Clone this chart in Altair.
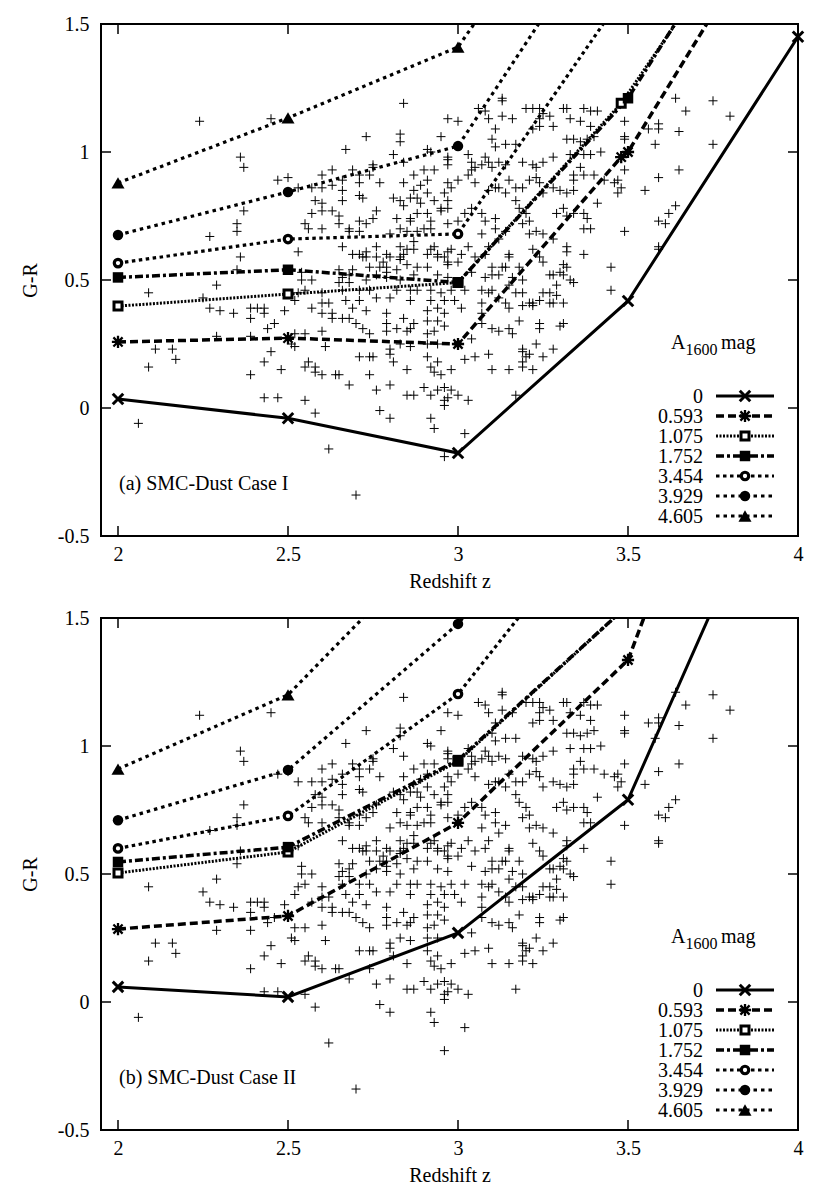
import altair as alt
import pandas as pd

# ---------------- data ----------------
scatter_points = [
 (2.24,1.12),(2.45,1.13),(2.84,1.19),(2.97,1.13),(3.00,1.12),(2.73,1.06),(2.83,1.07),(2.83,1.04),(2.95,1.06),(2.67,1.01),
 (2.81,0.99),(2.36,0.98),(2.37,0.94),(2.91,1.01),(2.92,1.00),(2.84,0.96),(2.97,0.98),(2.97,0.97),(2.47,0.89),(2.50,0.90),
 (2.60,0.91),(2.63,0.93),(2.69,0.93),(2.71,0.91),(2.75,0.95),(2.75,0.94),(2.74,0.91),(2.66,0.89),(2.63,0.87),(2.71,0.88),
 (2.77,0.88),(2.84,0.88),(2.87,0.91),(2.90,0.93),(2.93,0.93),(2.97,0.95),(2.53,0.86),(2.57,0.86),(2.60,0.86),(2.66,0.85),
 (2.58,0.81),(2.60,0.80),(2.66,0.81),(2.71,0.83),(2.72,0.82),(2.81,0.82),(2.84,0.79),(2.87,0.85),(2.88,0.82),(2.91,0.84),
 (2.93,0.81),(2.95,0.78),(2.97,0.81),(2.97,0.88),(2.37,0.77),(2.57,0.76),(2.60,0.77),(2.63,0.77),(2.65,0.75),(2.76,0.77),
 (2.75,0.74),(2.82,0.74),(2.86,0.73),(2.88,0.76),(2.91,0.76),(2.35,0.72),(2.35,0.69),(2.27,0.67),(2.55,0.72),(2.56,0.70),
 (2.60,0.70),(2.65,0.72),(2.68,0.70),(2.68,0.69),(2.71,0.73),(2.73,0.72),(2.71,0.69),(2.80,0.68),(2.83,0.70),(2.85,0.69),
 (2.88,0.69),(2.90,0.70),(2.92,0.70),(2.97,0.72),(2.53,0.61),(2.36,0.59),(2.66,0.63),(2.71,0.60),(2.72,0.59),(2.73,0.61),
 (2.76,0.63),(2.79,0.60),(2.83,0.63),(2.84,0.60),(2.87,0.62),(2.92,0.62),(2.98,0.62),(2.78,0.57),(2.80,0.59),(2.96,0.59),
 (2.97,0.57),(2.35,0.54),(2.54,0.53),(2.68,0.52),
 (3.06,1.17),(3.08,1.16),(3.13,1.21),(3.13,1.20),(3.20,1.17),(3.22,1.17),(3.24,1.17),(3.25,1.15),(3.27,1.14),(3.31,1.17),
 (3.32,1.17),(3.37,1.17),(3.39,1.16),(3.41,1.16),(3.09,1.13),(3.11,1.09),(3.13,1.14),(3.16,1.13),(3.22,1.09),(3.24,1.10),
 (3.28,1.10),(3.24,1.13),(3.33,1.13),(3.36,1.12),(3.39,1.10),(3.49,1.12),(3.49,1.06),(3.49,1.05),(3.56,1.09),(3.59,1.11),
 (3.59,1.09),(3.64,1.21),(3.67,1.16),(3.65,1.08),(3.75,1.20),(3.80,1.14),(3.58,1.03),(3.75,1.03),(3.03,0.99),(3.04,0.96),
 (3.08,0.98),(3.10,1.05),(3.11,1.02),(3.14,1.03),(3.17,1.03),(3.07,0.95),(3.09,0.96),(3.10,0.94),(3.12,0.96),(3.14,0.95),
 (3.19,0.96),(3.22,0.95),(3.23,0.94),(3.25,0.96),(3.28,0.98),(3.32,1.05),(3.34,1.05),(3.36,1.04),(3.38,1.05),(3.40,1.06),
 (3.33,0.99),(3.37,0.99),(3.39,0.99),(3.42,1.00),(3.36,0.94),(3.34,0.91),(3.37,0.91),(3.40,0.91),(3.43,0.89),(3.46,0.88),
 (3.47,0.84),(3.55,0.85),(3.49,0.93),(3.59,0.90),(3.65,0.93),(3.64,0.79),(3.62,0.76),(3.59,0.73),(3.61,0.72),(3.49,0.69),
 (3.59,0.63),(3.45,0.55),(3.37,0.60),(3.32,0.63),(3.31,0.56),(3.28,0.66),(3.25,0.68),(3.23,0.69),(3.21,0.68),(3.37,0.70),
 (3.39,0.70),(3.38,0.74),(3.41,0.80),(3.37,0.76),(3.34,0.76),(3.32,0.75),(3.29,0.76),(3.31,0.78),(3.34,0.89),(3.25,0.84),
 (3.28,0.86),(3.30,0.85),(3.32,0.84),(3.34,0.85),(3.19,0.86),(3.21,0.89),(3.23,0.90),(3.24,0.88),(3.15,0.89),(3.17,0.86),
 (3.17,0.81),(3.18,0.78),(3.20,0.76),(3.21,0.73),(3.19,0.72),(3.11,0.74),(3.11,0.70),(3.14,0.69),(3.09,0.85),(3.11,0.86),
 (3.12,0.86),(3.14,0.84),(3.05,0.88),(3.03,0.91),(3.04,0.93),(3.05,0.94),(3.00,0.89),(2.98,0.86),(2.96,0.84),(2.91,0.89),
 (2.89,0.87),(2.83,0.81),(2.86,0.82),(2.89,0.80),(2.86,0.74),(2.92,0.73),(2.95,0.77),(2.97,0.78),(3.00,0.73),(3.02,0.76),
 (3.04,0.78),(3.07,0.76),(3.08,0.73),(3.07,0.68),(3.09,0.63),(3.12,0.66),(3.01,0.60),(3.03,0.63),(3.05,0.59),(2.94,0.60),
 (2.97,0.61),(2.93,0.63),(2.87,0.65),(2.85,0.62),(2.83,0.59),(2.79,0.53),(3.24,0.59),(3.22,0.62),(3.15,0.59),(3.13,0.55),
 (3.18,0.55),(3.27,0.52),(3.30,0.53),(3.31,0.52),
 (2.69,0.60),(2.73,0.59),(2.76,0.59),(2.83,0.58),(2.91,0.60),(2.94,0.59),(3.08,0.60),(3.15,0.60),(3.32,0.61),(2.85,0.56),
 (2.88,0.55),(2.91,0.55),(2.97,0.56),(3.00,0.57),(3.10,0.55),(3.14,0.55),(3.25,0.57),(3.32,0.55),(2.65,0.54),(2.69,0.54),
 (2.74,0.55),(2.77,0.55),(2.79,0.55),(2.82,0.54),(2.54,0.50),(2.57,0.50),(2.66,0.51),(2.65,0.49),(2.68,0.49),(2.73,0.50),
 (2.76,0.52),(2.79,0.51),(2.83,0.50),(2.87,0.52),(2.94,0.52),(2.97,0.51),(3.04,0.53),(3.08,0.51),(3.10,0.52),(3.12,0.52),
 (3.16,0.51),(3.19,0.50),(3.28,0.52),(3.34,0.49),(3.29,0.48),
 (2.53,0.45),(2.55,0.46),(2.52,0.42),(2.60,0.45),(2.60,0.41),(2.62,0.41),(2.66,0.46),(2.71,0.46),(2.74,0.46),(2.67,0.42),
 (2.71,0.42),(2.76,0.43),(2.80,0.43),(2.82,0.46),(2.86,0.46),(2.88,0.46),(2.86,0.42),(2.92,0.46),(2.95,0.45),(2.98,0.46),
 (2.92,0.42),(2.96,0.42),(2.99,0.42),(3.02,0.46),(3.07,0.46),(3.09,0.45),(3.10,0.46),(3.07,0.41),(3.12,0.43),(3.15,0.48),
 (3.19,0.45),(3.22,0.41),(3.24,0.42),(3.27,0.45),(3.28,0.41),(3.29,0.44),(3.31,0.41),(3.45,0.46),
 (2.57,0.39),(2.60,0.37),(2.63,0.37),(2.63,0.35),(2.66,0.35),(2.69,0.39),(2.73,0.38),(2.68,0.35),(2.70,0.33),(2.72,0.31),
 (2.74,0.29),(2.79,0.37),(2.79,0.33),(2.79,0.30),(2.82,0.31),(2.84,0.35),(2.85,0.30),(2.87,0.33),(2.86,0.31),(2.91,0.38),
 (2.94,0.39),(2.96,0.37),(2.91,0.34),(2.94,0.34),(2.96,0.32),(2.91,0.29),(2.93,0.30),(3.01,0.39),(3.07,0.37),(3.07,0.33),
 (3.10,0.31),(3.12,0.30),(3.15,0.39),(3.19,0.40),(3.18,0.34),(3.15,0.31),(3.16,0.29),(3.24,0.33),(3.31,0.33),
 (2.55,0.29),(2.60,0.30),(2.52,0.24),(2.61,0.24),(2.83,0.25),(2.86,0.24),(2.80,0.23),(2.91,0.25),(2.94,0.25),(3.04,0.27),
 (3.19,0.22),(3.21,0.21),(3.23,0.25),(3.28,0.23),
 (2.56,0.18),(2.55,0.16),(2.58,0.16),(2.58,0.14),(2.60,0.13),(2.64,0.13),(2.65,0.13),(2.71,0.20),(2.74,0.20),(2.75,0.20),
 (2.74,0.13),(2.80,0.21),(2.81,0.18),(2.85,0.15),(2.91,0.20),(2.92,0.16),(2.94,0.18),(2.93,0.14),(2.95,0.13),(2.98,0.15),
 (3.02,0.19),(3.05,0.20),(3.09,0.21),(3.10,0.15),(3.15,0.15),(3.20,0.20),(3.19,0.18),(3.22,0.15),(3.25,0.20),
 (2.68,0.09),(2.80,0.09),(2.76,0.07),(2.90,0.08),(2.94,0.07),(2.96,0.08),(2.98,0.07),(2.85,0.05),(2.87,0.05),(2.92,0.05),
 (2.97,0.04),(3.00,0.05),(3.03,0.03),(2.96,0.01),(2.96,0.03),(2.55,0.03),(2.58,-0.02),(2.77,-0.01),(2.80,-0.04),(2.92,-0.04),
 (2.93,-0.08),(3.17,0.05),
 (2.09,0.45),(2.29,0.48),(2.25,0.43),(2.27,0.39),(2.30,0.38),(2.34,0.37),(2.39,0.39),(2.41,0.39),(2.43,0.39),(2.39,0.35),
 (2.46,0.33),(2.44,0.31),(2.43,0.37),(2.49,0.38),(2.29,0.28),(2.39,0.28),(2.11,0.23),(2.16,0.23),(2.17,0.19),(2.09,0.16),
 (2.52,0.29),(2.51,0.25),(2.43,0.18),(2.45,0.22),(2.39,0.13),(2.48,0.15),(2.43,0.04),(2.47,0.04),(2.06,-0.06),(2.70,-0.34),
 (2.62,-0.16),(2.96,-0.19),(3.02,-0.10),(3.24,0.31),(3.30,0.32),(3.19,0.23),(3.19,0.16),(3.22,0.40),(3.27,0.41),(3.33,0.50),
 (3.25,0.45),(3.21,0.41),(3.17,0.45),(3.14,0.41),(3.48,0.86),(3.47,0.89),(3.59,0.62),
]
scatter_z = [p[0] for p in scatter_points]
scatter_gr = [p[1] for p in scatter_points]

series_names = ["0", "0.593", "1.075", "1.752", "3.454", "3.929", "4.605"]

# (a) SMC-Dust Case I
case1_z = {
    "0":     [2, 2.5, 3, 3.5, 4],
    "0.593": [2, 2.5, 3, 3.48, 3.5, 4],
    "1.075": [2, 2.5, 3, 3.48, 4],
    "1.752": [2, 2.5, 3, 3.5, 4],
    "3.454": [2, 2.5, 3, 3.5],
    "3.929": [2, 2.5, 3, 3.5],
    "4.605": [2, 2.5, 3, 3.5],
}
case1_gr = {
    "0":     [0.035, -0.04, -0.176, 0.418, 1.45],
    "0.593": [0.258, 0.273, 0.25, 0.98, 1.0, 2.08],
    "1.075": [0.398, 0.445, 0.49, 1.19, 2.2],
    "1.752": [0.51, 0.54, 0.49, 1.21, 2.26],
    "3.454": [0.566, 0.66, 0.68, 1.64],
    "3.929": [0.676, 0.844, 1.023, 2.03],
    "4.605": [0.879, 1.133, 1.41, 2.36],
}
# (b) SMC-Dust Case II
case2_z = {
    "0":     [2, 2.5, 3, 3.5, 4],
    "0.593": [2, 2.5, 3, 3.5, 4],
    "1.075": [2, 2.5, 3, 3.5],
    "1.752": [2, 2.5, 3, 3.5],
    "3.454": [2, 2.5, 3, 3.5],
    "3.929": [2, 2.5, 3, 3.5],
    "4.605": [2, 2.5, 3],
}
case2_gr = {
    "0":     [0.059, 0.02, 0.27, 0.79, 2.29],
    "0.593": [0.285, 0.336, 0.70, 1.336, 3.1],
    "1.075": [0.504, 0.586, 0.94, 1.55],
    "1.752": [0.547, 0.605, 0.945, 1.55],
    "3.454": [0.60, 0.727, 1.203, 2.04],
    "3.929": [0.71, 0.906, 1.477, 2.3],
    "4.605": [0.91, 1.2, 1.88],
}
x_ticks = [2, 2.5, 3, 3.5, 4]
y_ticks = [-0.5, 0, 0.5, 1, 1.5]

# ---------------- styles ----------------
FONT = "Liberation Serif"
W, H = 697, 512
TL = 10  # inward tick length

PLUS = "M-1,0L1,0M0,-1L0,1"
XPATH = "M-1,-1L1,1M-1,1L1,-1"
STAR = "M-1,0L1,0M0,-1L0,1M-0.75,-0.75L0.75,0.75M-0.75,0.75L0.75,-0.75"

LINE_STYLE = {
    "0":     dict(strokeWidth=3),
    "0.593": dict(strokeWidth=3.5, strokeDash=[8, 4]),
    "1.075": dict(strokeWidth=3, strokeDash=[2, 1.5]),
    "1.752": dict(strokeWidth=3.5, strokeDash=[8, 3, 3, 3]),
    "3.454": dict(strokeWidth=3.2, strokeDash=[3.5, 3.5]),
    "3.929": dict(strokeWidth=3.2, strokeDash=[3.5, 4]),
    "4.605": dict(strokeWidth=3.2, strokeDash=[3.5, 4]),
}
MARKER = {
    "0":     dict(shape=XPATH, filled=False, stroke="black", strokeWidth=3, size=110),
    "0.593": dict(shape=STAR, filled=False, stroke="black", strokeWidth=2.3, size=150),
    "1.075": dict(shape="square", filled=True, fill="white", stroke="black", strokeWidth=3, size=64),
    "1.752": dict(shape="square", filled=True, fill="black", size=110),
    "3.454": dict(shape="circle", filled=True, fill="white", stroke="black", strokeWidth=3.2, size=56),
    "3.929": dict(shape="circle", filled=True, fill="black", size=110),
    "4.605": dict(shape="triangle-up", filled=True, fill="black", size=170),
}

xscale = alt.Scale(domain=[1.95, 4], nice=False, zero=False)
yscale = alt.Scale(domain=[-0.5, 1.5], nice=False, zero=False)

common_axis = dict(domain=False, ticks=False, grid=False, labelFont=FONT, labelFontSize=20,
                   titleFont=FONT, titleFontSize=20, titleFontWeight="normal",
                   labelColor="black", titleColor="black", labelFlush=False, labelOverlap=False,
                   labelExpr="'' + datum.value")
xaxis = alt.Axis(title="Redshift z", values=x_ticks, labelPadding=8, titlePadding=7, **common_axis)
yaxis = alt.Axis(title="G-R", values=y_ticks, labelPadding=12, titlePadding=17, **common_axis)


def X(field="z"):
    return alt.X(f"{field}:Q", scale=xscale, axis=xaxis)


def Y(field="gr"):
    return alt.Y(f"{field}:Q", scale=yscale, axis=yaxis)


scatter_df = pd.DataFrame({"z": scatter_z, "gr": scatter_gr})
xt_df = pd.DataFrame({"z": x_ticks})
yt_df = pd.DataFrame({"gr": y_ticks})
leg_df = pd.DataFrame({"name": series_names, "row": list(range(len(series_names)))})
leg_y = alt.Y("row:Q", scale=alt.Scale(domain=[0, 6], range=[372, 492], nice=False, zero=False), axis=None)


def text_layer(txt, x, y, size=20, align="left"):
    return alt.Chart(pd.DataFrame({"t": [txt]})).mark_text(
        font=FONT, fontSize=size, align=align, baseline="alphabetic", color="black"
    ).encode(x=alt.value(x), y=alt.value(y), text="t:N")


def panel(zd, grd, label):
    layers = [
        alt.Chart(scatter_df).mark_point(shape=PLUS, filled=False, stroke="black", strokeWidth=1,
                                         size=81, opacity=1).encode(x=X(), y=Y())
    ]
    for name in series_names:
        df = pd.DataFrame({"z": zd[name], "gr": grd[name]})
        layers.append(alt.Chart(df).mark_line(color="black", clip=True, **LINE_STYLE[name])
                      .encode(x=X(), y=Y()))
    for name in series_names:
        df = pd.DataFrame({"z": zd[name], "gr": grd[name]})
        layers.append(alt.Chart(df).transform_filter(alt.datum.gr <= 1.5)
                      .mark_point(opacity=1, **MARKER[name]).encode(x=X(), y=Y()))
    # inward ticks on all four sides
    tick = dict(color="black", strokeWidth=1.5)
    layers.append(alt.Chart(xt_df).mark_rule(**tick).encode(x=X(), y=alt.value(H), y2=alt.value(H - TL)))
    layers.append(alt.Chart(xt_df).mark_rule(**tick).encode(x=X(), y=alt.value(0), y2=alt.value(TL)))
    layers.append(alt.Chart(yt_df).mark_rule(**tick).encode(y=Y(), x=alt.value(0), x2=alt.value(TL)))
    layers.append(alt.Chart(yt_df).mark_rule(**tick).encode(y=Y(), x=alt.value(W), x2=alt.value(W - TL)))
    # panel label and legend title
    layers.append(text_layer(label, 18, 466))
    layers.append(text_layer("A", 570, 325))
    layers.append(text_layer("1600", 584.5, 331, size=16))
    layers.append(text_layer("mag", 620, 325))
    main = alt.layer(*layers)

    leg = []
    for name in series_names:
        sub = alt.Chart(leg_df).transform_filter(alt.datum.name == name)
        leg.append(sub.mark_rule(color="black", **LINE_STYLE[name])
                   .encode(x=alt.value(615), x2=alt.value(673), y=leg_y))
    for name in series_names:
        sub = alt.Chart(leg_df).transform_filter(alt.datum.name == name)
        leg.append(sub.mark_point(opacity=1, **MARKER[name]).encode(x=alt.value(644), y=leg_y))
    leg.append(alt.Chart(leg_df).mark_text(font=FONT, fontSize=20, align="right", baseline="alphabetic",
                                           dy=7, color="black")
               .encode(x=alt.value(602), y=leg_y, text="name:N"))
    legend = alt.layer(*leg)
    return alt.layer(main, legend).resolve_scale(y="independent").properties(width=W, height=H)


top = panel(case1_z, case1_gr, "(a) SMC-Dust Case I")
bottom = panel(case2_z, case2_gr, "(b) SMC-Dust Case II")

chart = (
    alt.vconcat(top, bottom, spacing=15)
    .properties(padding={"left": 11, "top": 5, "right": 5, "bottom": 0}, background="white")
    .configure(font=FONT)
    .configure_axis(labelFont=FONT, titleFont=FONT)
    .configure_text(font=FONT)
    .configure_view(stroke="black", strokeWidth=2)
)

chart.save("out.html", embed_options={"renderer": "svg", "actions": False})
